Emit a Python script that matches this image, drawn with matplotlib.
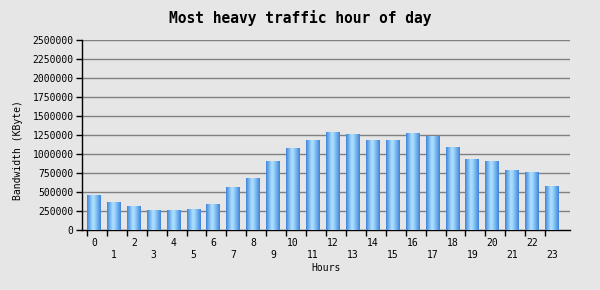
import matplotlib
matplotlib.use('Agg')
import matplotlib.pyplot as plt
import numpy as np
from matplotlib.colors import LinearSegmentedColormap

# ── Data ────────────────────────────────────────────────────────────────────
hours = list(range(24))
bandwidth = [460000, 368000, 303000, 263000, 263000, 276000, 329000, 553000,
             684000, 895000, 1066000, 1184000, 1289000, 1263000, 1184000, 1184000,
             1276000, 1224000, 1092000, 934000, 895000, 789000, 763000, 566000]
yticks = list(range(0, 2500001, 250000))

BG = '#e6e6e6'
MONO = 'DejaVu Sans Mono'
W = 0.7

fig = plt.figure(figsize=(6, 2.9), dpi=100)
fig.patch.set_facecolor(BG)
ax = fig.add_axes([82/600, 60/290, 488/600, 190/290])
ax.set_facecolor(BG)

# gradient fill for bars (dark edges, light centre)
cmap = LinearSegmentedColormap.from_list('bar', [
    (0.0, '#3f84dc'), (0.42, '#aee2ff'), (0.55, '#9fd6fb'), (1.0, '#3f84dc')])
grad = np.linspace(0, 1, 64).reshape(1, -1)

for h, v in zip(hours, bandwidth):
    ax.imshow(grad, cmap=cmap, aspect='auto', origin='lower',
              extent=(h - W/2, h + W/2, 0, v), zorder=3, interpolation='bilinear')

ax.set_xlim(-0.6, 23.9)
ax.set_ylim(0, 2500000)

# grid
for y in yticks[1:]:
    ax.axhline(y, color='#808080', lw=1, zorder=1)

ax.set_yticks(yticks)
ax.set_yticklabels([str(y) for y in yticks], fontsize=7, family=MONO)
ax.tick_params(axis='y', length=4, width=1, pad=2)

ax.set_xticks(hours)
ax.set_xticklabels([str(h) if h % 2 == 0 else '\n' + str(h) for h in hours],
                   fontsize=7, family=MONO)
ax.tick_params(axis='x', which='major', length=0, pad=6)
ax.set_xticks([h - W/2 for h in hours], minor=True)
ax.tick_params(axis='x', which='minor', length=4, width=1, direction='out')

for s in ['top', 'right']:
    ax.spines[s].set_visible(False)
for s in ['left', 'bottom']:
    ax.spines[s].set_color('black')
    ax.spines[s].set_linewidth(1)

ax.set_xlabel('Hours', fontsize=7, family=MONO, labelpad=2)
fig.text(18/600, 1 - 150/290, 'Bandwidth (KByte)', rotation=90, fontsize=7,
         family=MONO, ha='center', va='center')
fig.text(0.5, 1 - 18/290, 'Most heavy traffic hour of day', fontsize=10.5,
         family=MONO, fontweight='bold', ha='center', va='center')

fig.savefig('out.png', dpi=100, facecolor=BG)
